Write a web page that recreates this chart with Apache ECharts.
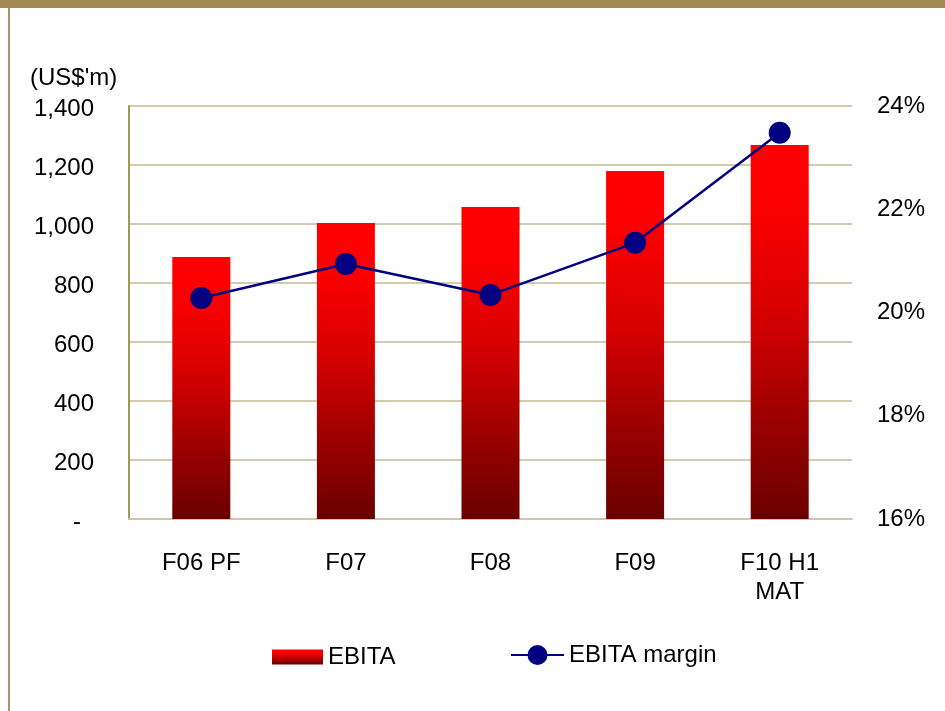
<!DOCTYPE html>
<html>
<head>
<meta charset="utf-8">
<title>EBITA and EBITA margin</title>
<script src="https://cdn.jsdelivr.net/npm/echarts@6/dist/echarts.min.js"></script>
<style>
  html, body { margin: 0; padding: 0; background: #ffffff; }
  #chart { width: 945px; height: 711px; }
</style>
</head>
<body>
<div id="chart"></div>
<script>
// Reporting periods shown on the category axis
const categories = ['F06 PF', 'F07', 'F08', 'F09', 'F10 H1\nMAT'];
// EBITA, US$ millions
const ebita = [888, 1003, 1058, 1180, 1268];
// EBITA margin, percent
const ebitaMargin = [20.28, 20.94, 20.34, 21.35, 23.48];
// Axis ranges
const leftAxisRange = { min: 0, max: 1400, interval: 200 };
const rightAxisRange = { min: 16, max: 24, interval: 2 };

const FONT = "'Liberation Sans', Arial, sans-serif";
const FS = 24;
const TAN = '#A38A52';

const barGradient = new echarts.graphic.LinearGradient(0, 0, 0, 1, [
  { offset: 0, color: '#FF0000' },
  { offset: 0.18, color: '#FA0000' },
  { offset: 0.45, color: '#D60000' },
  { offset: 0.75, color: '#980000' },
  { offset: 1, color: '#6A0000' }
]);

const chart = echarts.init(document.getElementById('chart'), null, { renderer: 'canvas' });

chart.setOption({
  backgroundColor: '#ffffff',
  animation: false,
  textStyle: { fontFamily: FONT },
  graphic: [
    { type: 'rect', shape: { x: 0, y: 0, width: 945, height: 8 }, style: { fill: TAN }, silent: true },
    { type: 'rect', shape: { x: 8, y: 8, width: 2, height: 703 }, style: { fill: '#A89468' }, silent: true },
    {
      type: 'text', left: 30, top: 66,
      style: { text: "(US$'m)", font: FS + "px " + FONT, fill: '#000000' }
    }
  ],
  grid: { left: 129, right: 93, top: 106, bottom: 192, containLabel: false },
  legend: [
    {
      data: [{ name: 'EBITA', icon: 'rect' }],
      left: 272, top: 645, padding: 0,
      itemWidth: 51, itemHeight: 15, itemGap: 7,
      textStyle: { fontSize: FS, color: '#000000', fontFamily: FONT, padding: [3, 0, 0, 0] }
    },
    {
      data: ['EBITA margin'],
      left: 510, top: 643, padding: 0,
      itemWidth: 53, itemHeight: 25,
      textStyle: { fontSize: FS, color: '#000000', fontFamily: FONT, padding: [3, 0, 0, 0] }
    }
  ],
  xAxis: {
    type: 'category',
    data: categories,
    axisTick: { show: false },
    axisLine: { show: true, lineStyle: { color: '#CFC8A8', width: 2 } },
    axisLabel: { fontSize: FS, color: '#000000', margin: 30, lineHeight: 29, fontFamily: FONT }
  },
  yAxis: [
    {
      type: 'value',
      min: leftAxisRange.min, max: leftAxisRange.max, interval: leftAxisRange.interval,
      axisLine: { show: true, lineStyle: { color: '#A09858', width: 2 } },
      axisTick: { show: false },
      splitLine: { show: true, lineStyle: { color: '#D2CBAE', width: 2 } },
      axisLabel: {
        fontSize: FS, color: '#000000', margin: 35, fontFamily: FONT,
        padding: [7, 0, 0, 0],
        formatter: function (v) {
          return v === 0 ? '{z|-}' : v.toLocaleString('en-US');
        },
        rich: { z: { fontSize: FS, color: '#000000', padding: [0, 13, 0, 0], fontFamily: FONT } }
      }
    },
    {
      type: 'value',
      min: rightAxisRange.min, max: rightAxisRange.max, interval: rightAxisRange.interval,
      position: 'right',
      axisLine: { show: false },
      axisTick: { show: false },
      splitLine: { show: false },
      axisLabel: {
        fontSize: FS, color: '#000000', margin: 25, fontFamily: FONT,
        padding: [7, 0, 0, 0],
        formatter: function (v) { return v + '%'; }
      }
    }
  ],
  series: [
    {
      name: 'EBITA',
      type: 'bar',
      data: ebita,
      barWidth: 58,
      itemStyle: { color: barGradient }
    },
    {
      name: 'EBITA margin',
      type: 'line',
      yAxisIndex: 1,
      data: ebitaMargin,
      symbol: 'circle',
      symbolSize: 22,
      z: 3,
      lineStyle: { color: '#000080', width: 2.5 },
      itemStyle: { color: '#000080' }
    }
  ]
});
</script>
</body>
</html>
